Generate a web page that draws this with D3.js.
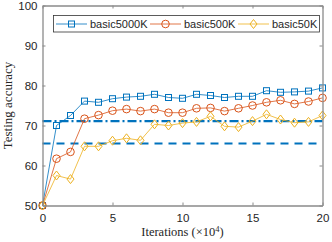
<!DOCTYPE html>
<html><head><meta charset="utf-8">
<script src="https://cdn.jsdelivr.net/npm/d3@7"></script>
<style>body{margin:0;background:#fff}svg{display:block}</style>
</head><body>
<svg id="c" width="332" height="242"></svg>
<script>
const iterations = [0,1,2,3,4,5,6,7,8,9,10,11,12,13,14,15,16,17,18,19,20];
const basic5000K = [50,70,72.5,76.1,75.8,76.7,77.1,77.3,77.8,77.0,76.8,77.8,77.5,77.0,77.3,77.3,78.7,78.3,78.4,78.6,79.4];
const basic500K  = [50,61.7,63.4,71.7,72.6,73.7,74.1,73.6,74.1,73.2,73.2,74.3,74.4,73.6,74.3,75.0,75.8,76.3,75.4,76.0,76.9];
const basic50K   = [50,57.5,56.6,64.8,64.8,66.2,66.8,66.3,70.3,70.0,70.6,70.9,72.3,69.8,69.6,71.1,72.8,71.5,70.7,70.9,72.5];
const seriesNames = ["basic5000K","basic500K","basic50K"];
const refDashDot = 71.1;
const refDashed = 65.5;
const xTicks = [0,5,10,15,20];
const yTicks = [50,60,70,80,90,100];

const colors = ["#0072BD","#D95319","#EDB120"];
const markers = ["square","circle","diamond"];
const series = [basic5000K, basic500K, basic50K];

const svg = d3.select("#c");
const L=42.5, R=322.5, T=5.5, B=205.5;
const x = d3.scaleLinear().domain([0,20]).range([L,R]);
const y = d3.scaleLinear().domain([50,100]).range([B,T]);
const axisColor="#8a8a8a", textColor="#262626";

// reference lines
svg.append("line").attr("x1",x(0)).attr("x2",x(20)).attr("y1",y(refDashDot)).attr("y2",y(refDashDot))
  .attr("stroke","#0072BD").attr("stroke-width",2.2).attr("stroke-dasharray","9,3,2,3");
svg.append("line").attr("x1",x(0)).attr("x2",x(19.6)).attr("y1",y(refDashed)).attr("y2",y(refDashed))
  .attr("stroke","#0072BD").attr("stroke-width",2.2).attr("stroke-dasharray","8,6");

function drawMarker(g, type, cx, cy, col){
  if(type==="square") g.append("rect").attr("x",cx-3).attr("y",cy-3).attr("width",6).attr("height",6)
    .attr("fill","none").attr("stroke",col).attr("stroke-width",1);
  else if(type==="circle") g.append("circle").attr("cx",cx).attr("cy",cy).attr("r",3.8)
    .attr("fill","none").attr("stroke",col).attr("stroke-width",1);
  else g.append("path").attr("d",`M${cx},${cy-4.5}L${cx+3.5},${cy}L${cx},${cy+4.5}L${cx-3.5},${cy}Z`)
    .attr("fill","none").attr("stroke",col).attr("stroke-width",1);
}

const line = d3.line().x((d,i)=>x(iterations[i])).y(d=>y(d));
series.forEach((s,k)=>{
  const g = svg.append("g");
  g.append("path").attr("d",line(s)).attr("fill","none").attr("stroke",colors[k]).attr("stroke-width",0.8);
  s.forEach((v,i)=>drawMarker(g,markers[k],x(iterations[i]),y(v),colors[k]));
});

// axes
const font = "Liberation Sans, Arial, sans-serif";
const ax = svg.append("g").attr("transform",`translate(0,${B})`)
  .call(d3.axisBottom(x).tickValues(xTicks).tickSizeInner(-3).tickSizeOuter(0).tickPadding(8));
const ay = svg.append("g").attr("transform",`translate(${L},0)`)
  .call(d3.axisLeft(y).tickValues(yTicks).tickSizeInner(-3).tickSizeOuter(0).tickPadding(5));
const axt = svg.append("g").attr("transform",`translate(0,${T})`)
  .call(d3.axisTop(x).tickValues(xTicks).tickSizeInner(-3).tickSizeOuter(0).tickFormat(""));
const ayr = svg.append("g").attr("transform",`translate(${R},0)`)
  .call(d3.axisRight(y).tickValues(yTicks).tickSizeInner(-3).tickSizeOuter(0).tickFormat(""));
[ax,ay,axt,ayr].forEach(a=>{
  a.selectAll("path").attr("stroke",axisColor).attr("stroke-width",1.3);
  a.selectAll("line").attr("stroke",axisColor);
  a.selectAll("text").attr("fill",textColor).style("font-family",font).style("font-size","11.5px");
});

// axis titles
svg.append("text").attr("x",(L+R)/2).attr("y",236).attr("text-anchor","middle")
  .style("font-family","Liberation Serif, Times New Roman, serif").style("font-size","12.5px").attr("fill",textColor)
  .html('Iterations (×10<tspan dy="-4" font-size="8.5">4</tspan><tspan dy="4">)</tspan>');
svg.append("text").attr("transform",`translate(12,${(T+B)/2}) rotate(-90)`).attr("text-anchor","middle")
  .style("font-family","Liberation Serif, Times New Roman, serif").style("font-size","13px").attr("fill",textColor)
  .text("Testing accuracy");

// legend
const lg = svg.append("g");
lg.append("rect").attr("x",53.5).attr("y",15.5).attr("width",266).attr("height",16.5)
  .attr("fill","#fff").attr("stroke","#333").attr("stroke-width",0.8);
const lx = [56,150,238];
seriesNames.forEach((n,k)=>{
  const yy = 24;
  lg.append("line").attr("x1",lx[k]).attr("x2",lx[k]+31).attr("y1",yy).attr("y2",yy)
    .attr("stroke",colors[k]).attr("stroke-width",0.8);
  drawMarker(lg,markers[k],lx[k]+15.5,yy,colors[k]);
  lg.append("text").attr("x",lx[k]+34).attr("y",yy+4).text(n)
    .style("font-family",font).style("font-size","11px").attr("fill",textColor);
});
</script>
</body></html>
